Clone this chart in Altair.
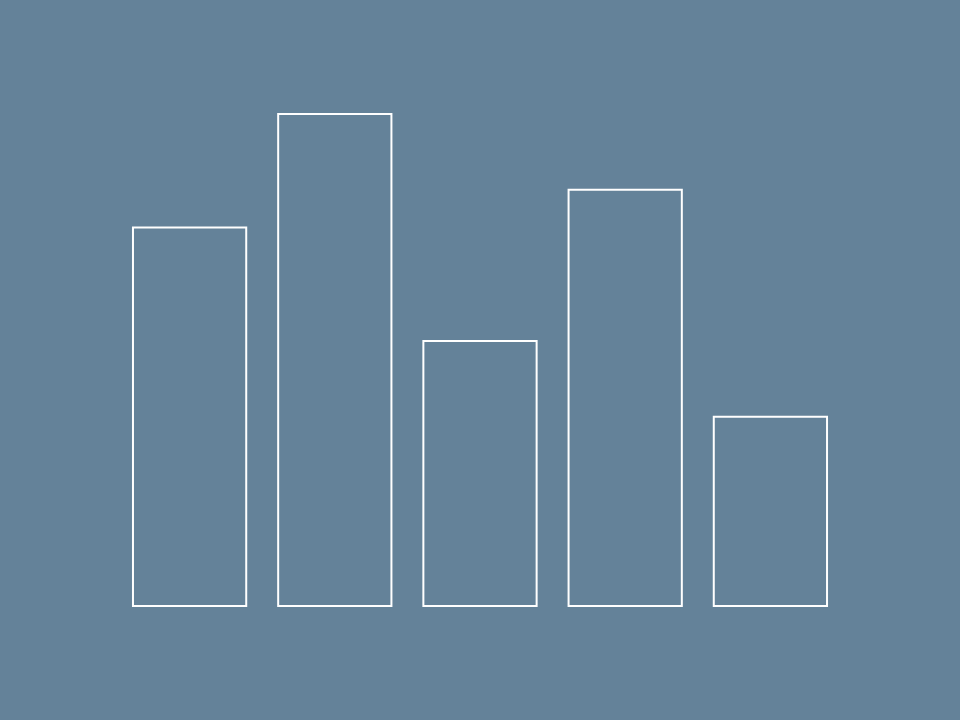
import altair as alt
import pandas as pd

categories = ["A", "B", "C", "D", "E"]
values = [20, 26, 14, 22, 10]

df = pd.DataFrame({"category": categories, "value": values})

bg = "#648299"

# Give the page itself the same background so the 8px margin is not white.
try:
    import altair.utils.html as _ah

    _orig_tpl = _ah.TEMPLATES["standard"]

    class _BgTemplate:
        def render(self, *args, **kwargs):
            html = _orig_tpl.render(*args, **kwargs)
            style = "<style>html,body{background:%s;}</style>" % bg
            if "<head>" in html:
                return html.replace("<head>", "<head>" + style, 1)
            return style + html

    _ah.TEMPLATES["standard"] = _BgTemplate()
except Exception:
    pass

chart = (
    alt.Chart(df)
    .mark_bar(filled=False, stroke="white", strokeWidth=2)
    .encode(
        x=alt.X("category:N", sort=categories, axis=None,
                scale=alt.Scale(paddingInner=0.22, paddingOuter=0.11)),
        y=alt.Y("value:Q", axis=None, scale=alt.Scale(domain=[0, 26], nice=False)),
    )
    .properties(
        width=726,
        height=492,
        background=bg,
        padding={"left": 109, "top": 106, "right": 109, "bottom": 106},
        autosize=alt.AutoSizeParams(type="none"),
    )
    .configure_view(stroke=None)
)

chart.save("out.html", embed_options={"renderer": "svg", "actions": False})
